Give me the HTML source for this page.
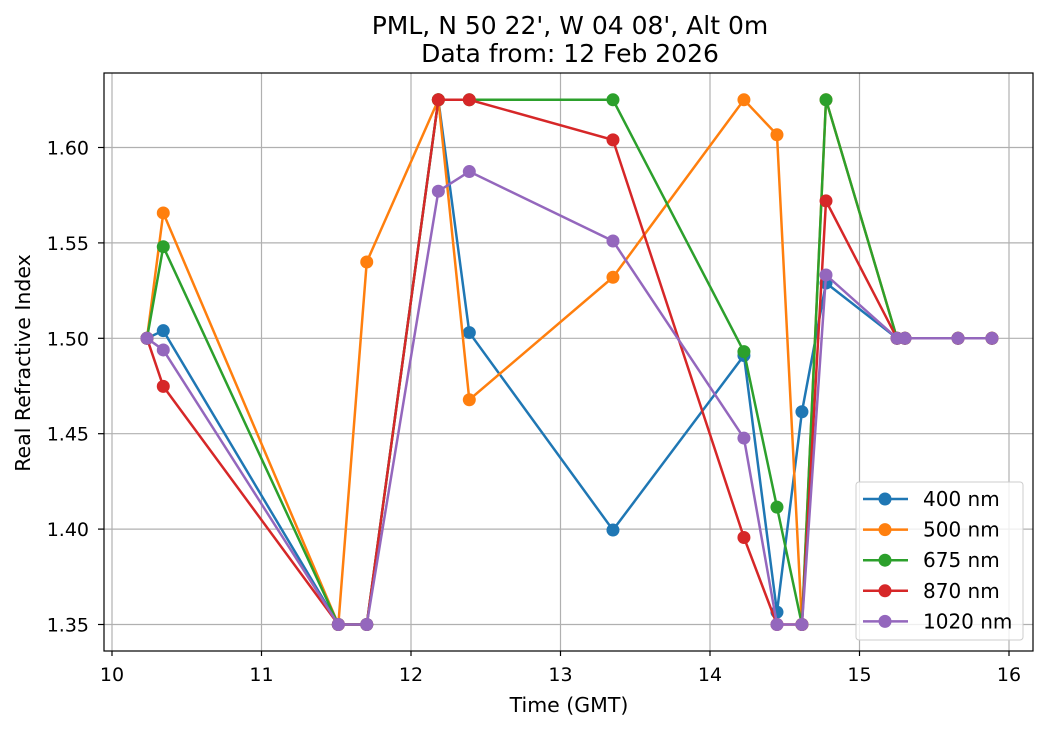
<!DOCTYPE html>
<html><head><meta charset="utf-8"><style>
body{margin:0;background:#fff;}
svg{font-family:"DejaVu Sans","Liberation Sans",sans-serif;}
</style></head><body>
<svg id="chart" width="1049" height="729" viewBox="0 0 1049 729">
<rect width="1049" height="729" fill="#fff"/>
<g id="grid"></g>
<g id="series"></g>
<rect x="104" y="73" width="929" height="578" fill="none" stroke="#000" stroke-width="1.2"/>
<g id="xticks"></g>
<g id="yticks"></g>
<text x="570" y="34" font-size="25" text-anchor="middle">PML, N 50 22', W 04 08', Alt 0m</text>
<text x="570" y="62" font-size="25" text-anchor="middle">Data from: 12 Feb 2026</text>
<text x="569" y="712" font-size="20.5" text-anchor="middle">Time (GMT)</text>
<text x="0" y="0" font-size="20.5" text-anchor="middle" transform="translate(30,363) rotate(-90)">Real Refractive Index</text>
<g id="legend"></g>
</svg>
<script>
const times = [10.234,10.343,11.514,11.704,12.183,12.39,13.351,14.227,14.448,14.615,14.776,15.251,15.304,15.659,15.886];
const labels = ["400 nm","500 nm","675 nm","870 nm","1020 nm"];
const s400 = [1.5,1.504,1.35,1.35,1.625,1.503,1.3995,1.491,1.3565,1.4615,1.529,1.5,1.5,1.5,1.5];
const s500 = [1.5,1.5657,1.35,1.54,1.625,1.4678,1.532,1.625,1.6067,1.35,1.625,1.5,1.5,1.5,1.5];
const s675 = [1.5,1.548,1.35,1.35,1.625,1.625,1.625,1.493,1.4115,1.35,1.625,1.5,1.5,1.5,1.5];
const s870 = [1.5,1.4748,1.35,1.35,1.625,1.625,1.604,1.3956,1.35,1.35,1.572,1.5,1.5,1.5,1.5];
const s1020 = [1.5,1.4939,1.35,1.35,1.5771,1.5874,1.551,1.4477,1.35,1.35,1.5332,1.5,1.5,1.5,1.5];
const xTicks = [10,11,12,13,14,15,16];
const yTicks = [1.35,1.40,1.45,1.50,1.55,1.60];
const yTickLabels = ["1.35","1.40","1.45","1.50","1.55","1.60"];

const colors = ["#1f77b4","#ff7f0e","#2ca02c","#d62728","#9467bd"];
const allSeries = [s400,s500,s675,s870,s1020];
const NS="http://www.w3.org/2000/svg";
function xs(v){return 112+(v-10)*149.5;}
function ys(v){return 624.5-(v-1.35)*1908;}
function mk(tag,attrs,parent){const e=document.createElementNS(NS,tag);for(const k in attrs)e.setAttribute(k,attrs[k]);parent.appendChild(e);return e;}
const grid=document.getElementById('grid'),xt=document.getElementById('xticks'),yt=document.getElementById('yticks');
xTicks.forEach(t=>{
  const l=mk('line',{x1:xs(t),x2:xs(t),y1:73,y2:651,stroke:'#b0b0b0','stroke-width':1.2},grid);
  
  
  mk('line',{x1:xs(t),x2:xs(t),y1:651,y2:656,stroke:'#000','stroke-width':1.2},xt);
  const tx=mk('text',{x:xs(t),y:681,'font-size':19,'text-anchor':'middle'},xt);
  tx.textContent=t;
  
  
});
yTicks.forEach((t,i)=>{
  const l=mk('line',{x1:104,x2:1033,y1:ys(t),y2:ys(t),stroke:'#b0b0b0','stroke-width':1.2},grid);
  
  
  mk('line',{x1:98,x2:104,y1:ys(t),y2:ys(t),stroke:'#000','stroke-width':1.2},yt);
  const tx=mk('text',{x:89,y:ys(t)+7,'font-size':19,'text-anchor':'end'},yt);
  tx.textContent=yTickLabels[i];
  
  
});
const sg=document.getElementById('series');
allSeries.forEach((s,i)=>{
  const g=mk('g',{},sg);
  
  
  mk('polyline',{points:s.map((v,j)=>xs(times[j])+','+ys(v)).join(' '),fill:'none',stroke:colors[i],'stroke-width':2.5},g);
  s.forEach((v,j)=>{
    const c=mk('circle',{cx:xs(times[j]),cy:ys(v),r:6.5,fill:colors[i]},g);
    
    
  });
});
const lg=document.getElementById('legend');
mk('rect',{x:856,y:482,width:167,height:158,rx:3,fill:'#fff','fill-opacity':0.8,stroke:'#ccc'},lg);
labels.forEach((lab,i)=>{
  const y=499+i*30.6;
  const e=mk('g',{},lg);
  
  
  mk('line',{x1:863,x2:908,y1:y,y2:y,stroke:colors[i],'stroke-width':2.5},e);
  mk('circle',{cx:885,cy:y,r:6.5,fill:colors[i]},e);
  const t=mk('text',{x:923,y:y+7,'font-size':20},e);
  t.textContent=lab;
});
</script>
</body></html>
